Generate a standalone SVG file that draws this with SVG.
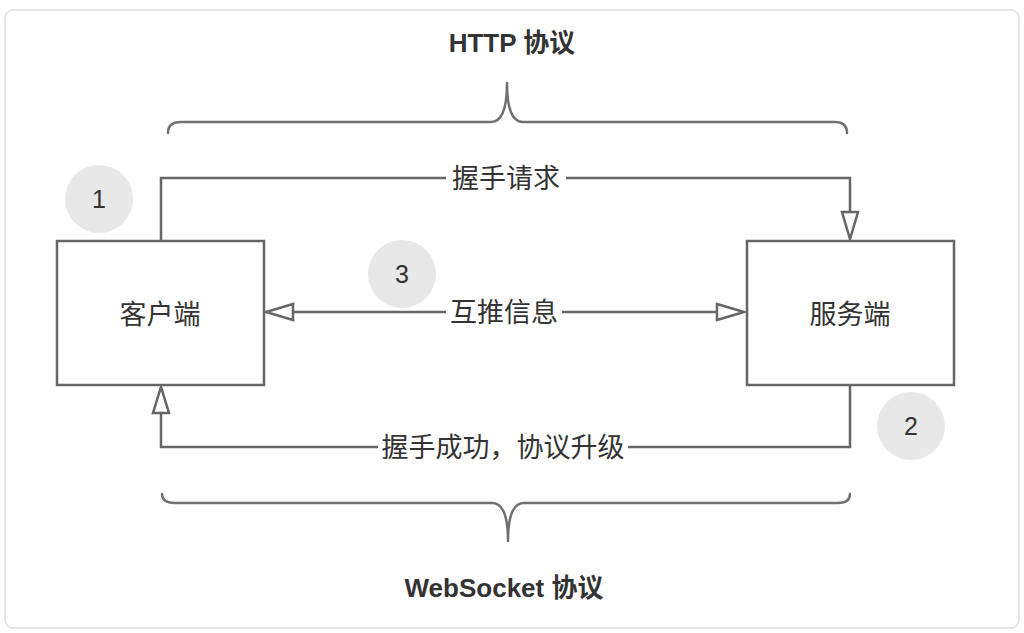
<svg xmlns="http://www.w3.org/2000/svg" width="1024" height="633" viewBox="0 0 1024 633">
  <defs>
    <style>
      .card { fill: #ffffff; stroke: #e6e6e6; stroke-width: 2; }
      .box { fill: #ffffff; stroke: #666666; stroke-width: 2.5; }
      .line { fill: none; stroke: #666666; stroke-width: 2.5; }
      .brace { fill: none; stroke: #707070; stroke-width: 2.5; stroke-linejoin: round; stroke-linecap: round; }
      .head { fill: #ffffff; stroke: #666666; stroke-width: 2.5; stroke-linejoin: miter; }
      .badge { fill: #e8e8e8; }
      .t { font-family: "Liberation Sans", "Noto Sans CJK SC", sans-serif; fill: #333333; text-anchor: middle; }
      .title { font-size: 26px; font-weight: bold; }
      .lbl { font-size: 27px; }
      .num { font-size: 25px; }
      .gap { fill: #ffffff; }
    </style>
  </defs>

  <rect class="card" x="5" y="10" width="1014" height="618" rx="8"/>

  <g id="http-label">
    <text class="t title" x="512" y="52">HTTP 协议</text>
    <path class="brace" d="M168,133 Q168,122 181,122 L491,122 Q507,122 507,83 Q507,122 523,122 L835,122 Q847,122 847,133"/>
  </g>

  <g id="websocket-label">
    <path class="brace" d="M162,494 Q162,503 175,503 L492,503 Q508,503 508,541 Q508,503 524,503 L838,503 Q850,503 850,494"/>
    <text class="t title" x="504" y="597">WebSocket 协议</text>
  </g>

  <g id="connectors">
    <!-- 1: handshake request -->
    <path class="line" d="M161,240 V178 H850 V212"/>
    <polygon class="head" points="842,212 858,212 850,239"/>
    <rect class="gap" x="446" y="164" width="120" height="28"/>
    <text class="t lbl" x="506" y="188">握手请求</text>

    <!-- 3: mutual push -->
    <path class="line" d="M293,312 H717"/>
    <polygon class="head" points="293,304 293,320 266,312"/>
    <polygon class="head" points="717,304 717,320 744,312"/>
    <rect class="gap" x="446" y="298" width="116" height="28"/>
    <text class="t lbl" x="504" y="322">互推信息</text>

    <!-- 2: handshake success -->
    <path class="line" d="M850,386 V447 H161 V413"/>
    <polygon class="head" points="153,413 169,413 161,387"/>
    <rect class="gap" x="378" y="433" width="250" height="28"/>
    <text class="t lbl" x="503" y="457">握手成功，协议升级</text>
  </g>

  <g id="client">
    <rect class="box" x="57" y="241" width="207" height="144"/>
    <text class="t lbl" x="160" y="324">客户端</text>
  </g>

  <g id="server">
    <rect class="box" x="747" y="241" width="207" height="144"/>
    <text class="t lbl" x="850" y="324">服务端</text>
  </g>

  <g id="badge-1">
    <circle class="badge" cx="99" cy="199" r="34"/>
    <text class="t num" x="99" y="208">1</text>
  </g>
  <g id="badge-2">
    <circle class="badge" cx="911" cy="426" r="34"/>
    <text class="t num" x="911" y="435">2</text>
  </g>
  <g id="badge-3">
    <circle class="badge" cx="402" cy="274" r="34"/>
    <text class="t num" x="402" y="283">3</text>
  </g>
</svg>
